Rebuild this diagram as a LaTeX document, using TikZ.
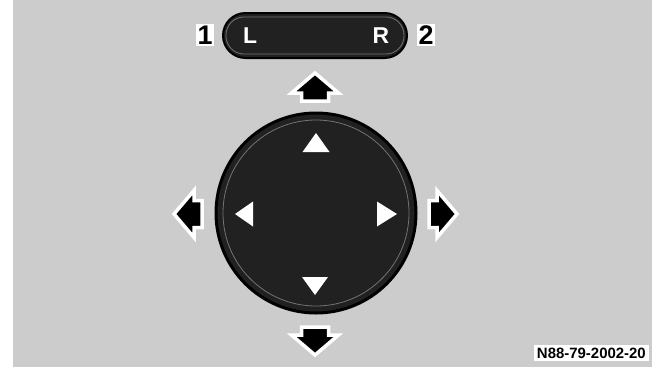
\documentclass[tikz,border=0pt]{standalone}
\usepackage{fontspec}
\setmainfont{Liberation Sans}
\usetikzlibrary{shapes.misc}

\tikzset{
  panel/.style={fill=black!20, draw=none},
  knobface/.style={circle, fill=black!87, draw=black, line width=3bp, minimum size=200bp, inner sep=0pt},
  pillbox/.style={rounded rectangle, fill=black!87, draw=black, line width=2bp, minimum width=184bp, minimum height=45bp, inner sep=0pt},
  keytext/.style={font=\bfseries\fontsize{23}{23}\selectfont, text=white, inner sep=0pt},
  numtext/.style={font=\bfseries\fontsize{27}{27}\selectfont, fill=white, inner sep=2bp},
  bigarrow/.style={fill=black, draw=white, line width=3.5bp, line join=miter},
  smallarrow/.style={fill=white, draw=none}
}

\begin{document}
\begin{tikzpicture}[x=1bp, y=-1bp]
\useasboundingbox (0,0) rectangle (656,367);
% background
\fill[panel] (13,0) rectangle (652,367);

% mirror selector switch
\node[pillbox] (pill) at (315,35.5) {};
\draw[black!55, line width=0.8bp, rounded corners=18bp] (226,17) rectangle (404,54);
\node[keytext] (keyL) at (250,36) {L};
\node[keytext] (keyR) at (381,36) {R};
\node[numtext] (num1) at (205,35) {1};
\node[numtext] (num2) at (426,35) {2};

% adjusting knob
\node[knobface] (knob) at (316,213) {};
\draw[black!55, line width=0.8bp] (knob.center) circle (93bp);
\fill[smallarrow] (316,133) -- (329.5,152) -- (302.5,152) -- cycle;
\fill[smallarrow] (315,295) -- (328,277) -- (302,277) -- cycle;
\fill[smallarrow] (235,214) -- (253,201.5) -- (253,226.5) -- cycle;
\fill[smallarrow] (397,214) -- (377,201.5) -- (377,226.5) -- cycle;

% directions
\draw[bigarrow, shift={(315,73)}]
  (0,0) -- (23.5,20) -- (13.5,20) -- (13.5,28) -- (-13.5,28) -- (-13.5,20) -- (-23.5,20) -- cycle;
\draw[bigarrow, shift={(315,355)}, rotate=180]
  (0,0) -- (23.5,20) -- (13.5,20) -- (13.5,28) -- (-13.5,28) -- (-13.5,20) -- (-23.5,20) -- cycle;
\draw[bigarrow, shift={(174,214)}, rotate=90]
  (0,0) -- (23.5,20) -- (13.5,20) -- (13.5,28) -- (-13.5,28) -- (-13.5,20) -- (-23.5,20) -- cycle;
\draw[bigarrow, shift={(457,214)}, rotate=-90]
  (0,0) -- (23.5,20) -- (13.5,20) -- (13.5,28) -- (-13.5,28) -- (-13.5,20) -- (-23.5,20) -- cycle;

% figure code
\node[fill=white, inner sep=3bp, font=\bfseries\fontsize{15}{15}\selectfont, anchor=east] (figcode) at (649,353) {N88-79-2002-20};
\end{tikzpicture}
\end{document}
